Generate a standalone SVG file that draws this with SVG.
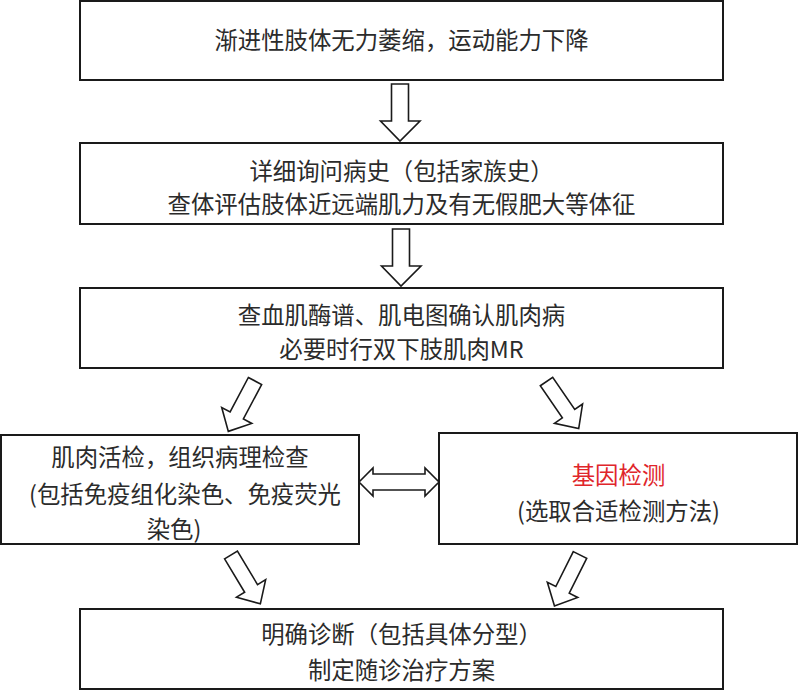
<svg xmlns="http://www.w3.org/2000/svg" width="799" height="700" viewBox="0 0 799 700">
<defs>
<style>
.box{fill:#fff;stroke:#1a1a1a;stroke-width:2}
.t{font-family:"Noto Sans CJK SC","Microsoft YaHei",sans-serif;font-size:23.4px;fill:#2b2b2b;text-anchor:middle}
.red{fill:#e0262b}
.arr{fill:#fff;stroke:#1a1a1a;stroke-width:1.6;stroke-linejoin:miter}
</style>
<polygon id="darr" points="-7.5,0 7.5,0 7.5,39 17,39 0,57 -17,39 -7.5,39"/>
</defs>
<rect width="799" height="700" fill="#fff"/>
<g id="n1">
<rect class="box" x="80" y="1" width="643" height="79"/>
<text class="t" x="401.5" y="49">渐进性肢体无力萎缩，运动能力下降</text>
</g>
<g id="n2">
<rect class="box" x="80" y="143" width="643" height="81"/>
<text class="t" x="401.5" y="180">详细询问病史（包括家族史）</text>
<text class="t" x="401.5" y="213">查体评估肢体近远端肌力及有无假肥大等体征</text>
</g>
<g id="n3">
<rect class="box" x="80" y="288" width="643" height="80"/>
<text class="t" x="401.5" y="323.5">查血肌酶谱、肌电图确认肌肉病</text>
<text class="t" x="401.5" y="357.5">必要时行双下肢肌肉MR</text>
</g>
<g id="n4">
<rect class="box" x="1" y="435" width="358" height="109"/>
<text class="t" x="180" y="465.5">肌肉活检，组织病理检查</text>
<text class="t" x="185" y="503">(包括免疫组化染色、免疫荧光</text>
<text class="t" x="174" y="538">染色)</text>
</g>
<g id="n5">
<rect class="box" x="439" y="433" width="358" height="111"/>
<text class="t red" x="618.5" y="483.5">基因检测</text>
<text class="t" x="618.5" y="520">(选取合适检测方法)</text>
</g>
<g id="n6">
<rect class="box" x="80" y="609" width="643" height="80"/>
<text class="t" x="401.5" y="642.5">明确诊断（包括具体分型）</text>
<text class="t" x="401.5" y="679">制定随诊治疗方案</text>
</g>
<g id="connectors">
<polygon class="arr" points="391.5,84 408.5,84 408.5,121 420,121 400,141 380.5,121 391.5,121"/>
<polygon class="arr" points="392.5,229 409.5,229 409.5,266 421,266 401,286 381.5,266 392.5,266"/>
<use href="#darr" class="arr" transform="translate(255,381) rotate(27.9)"/>
<use href="#darr" class="arr" transform="translate(546.5,381.5) rotate(-34.4)"/>
<use href="#darr" class="arr" transform="translate(231,555) rotate(-31)"/>
<use href="#darr" class="arr" transform="translate(580,555) rotate(26.6)"/>
<polygon class="arr" points="359,482 373,468 373,474 425,474 425,468 439,482 425,496 425,490 373,490 373,496"/>
</g>
</svg>
